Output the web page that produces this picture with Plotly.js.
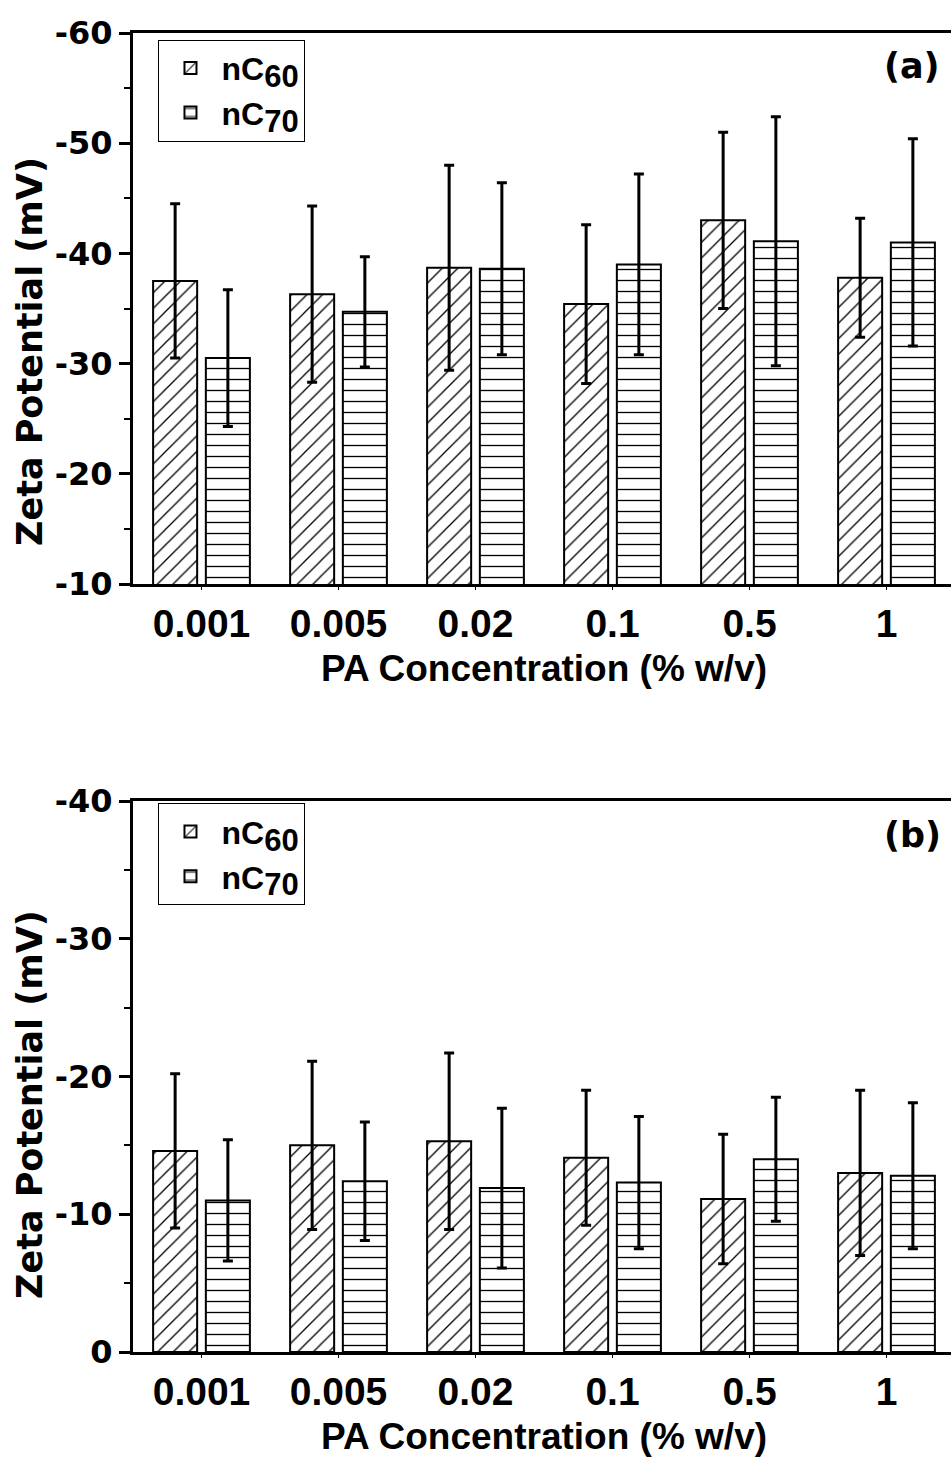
<!DOCTYPE html>
<html>
<head>
<meta charset="utf-8">
<script src="https://cdn.plot.ly/plotly-3.0.1.min.js"></script>
<style>
html,body{margin:0;padding:0;overflow:hidden;background:#fff;}
#chart{width:960px;height:1463px;}
</style>
</head>
<body>
<div id="chart"></div>
<script>
// ---- data ----
var categories = ['0.001', '0.005', '0.02', '0.1', '0.5', '1'];
var seriesNames = ['nC<sub><span style="font-size:31px">60</span></sub>',
                   'nC<sub><span style="font-size:31px">70</span></sub>'];
// panel (a)
var a_nC60 = [-37.5, -36.3, -38.7, -35.4, -43.0, -37.8];
var a_nC60_err = [7.0, 8.0, 9.3, 7.2, 8.0, 5.4];
var a_nC70 = [-30.5, -34.7, -38.6, -39.0, -41.1, -41.0];
var a_nC70_err = [6.2, 5.0, 7.8, 8.2, 11.3, 9.4];
// panel (b)
var b_nC60 = [-14.6, -15.0, -15.3, -14.1, -11.1, -13.0];
var b_nC60_err = [5.6, 6.1, 6.4, 4.9, 4.7, 6.0];
var b_nC70 = [-11.0, -12.4, -11.9, -12.3, -14.0, -12.8];
var b_nC70_err = [4.4, 4.3, 5.8, 4.8, 4.5, 5.3];
var yTicksA = [-60, -50, -40, -30, -20, -10];
var yTicksB = [-40, -30, -20, -10, 0];
var xTitle = 'PA Concentration (% w/v)';
var yTitle = 'Zeta Potential (mV)';
var panelLabels = ['(a)', '(b)'];

// ---- style ----
var ARIAL = 'Liberation Sans, Arial, sans-serif';
var DEJA = 'DejaVu Sans, sans-serif';
function bar(name, group, x, y, err, shape, xa, ya, legend) {
  return {
    type: 'bar', name: name, legendgroup: group, x: x, y: y, xaxis: xa, yaxis: ya, legend: legend,
    marker: {
      color: 'white',
      line: {color: 'black', width: 2},
      pattern: {shape: shape, size: 11, solidity: 0.12, fgcolor: 'black', bgcolor: 'white', fillmode: 'replace'}
    },
    error_y: {type: 'data', array: err, visible: true, color: 'black', thickness: 3, width: 5}
  };
}
var data = [
  bar(seriesNames[0], 'a60', categories, a_nC60, a_nC60_err, '/', 'x', 'y', 'legend'),
  bar(seriesNames[1], 'a70', categories, a_nC70, a_nC70_err, '-', 'x', 'y', 'legend'),
  bar(seriesNames[0], 'b60', categories, b_nC60, b_nC60_err, '/', 'x2', 'y2', 'legend2'),
  bar(seriesNames[1], 'b70', categories, b_nC70, b_nC70_err, '-', 'x2', 'y2', 'legend2')
];

function xaxis(anchor) {
  return {
    anchor: anchor, type: 'category', range: [-0.5, 5.5],
    showline: true, linecolor: 'black', linewidth: 3, mirror: true,
    ticks: 'outside', ticklen: 3, tickwidth: 1, tickcolor: 'black',
    tickfont: {family: ARIAL, size: 39, color: 'black', weight: 'bold'},
    showgrid: false, zeroline: false,
    title: {text: xTitle, standoff: 12,
            font: {family: ARIAL, size: 37, color: 'black', weight: 'bold'}}
  };
}
function yaxis(anchor, domain, range, ticks) {
  return {
    anchor: anchor, domain: domain, range: range,
    tickmode: 'array', tickvals: ticks, ticktext: ticks.map(String),
    showline: true, linecolor: 'black', linewidth: 3,
    ticks: 'outside', ticklen: 11, tickwidth: 3, tickcolor: 'black',
    minor: {ticks: 'outside', ticklen: 6, tickwidth: 2, tickcolor: 'black', dtick: 5, showgrid: false},
    tickfont: {family: DEJA, size: 32, color: 'black', weight: 'bold'},
    showgrid: false, zeroline: false
  };
}
function rightAxis(over, anchor, range) {
  return {
    overlaying: over, side: 'right', anchor: anchor, range: range,
    showline: true, linecolor: 'black', linewidth: 3,
    ticks: 'inside', ticklen: 10, tickwidth: 3, tickcolor: 'black', dtick: 10,
    minor: {ticks: 'inside', ticklen: 5, tickwidth: 2, tickcolor: 'black', dtick: 5},
    showticklabels: false, showgrid: false, zeroline: false
  };
}
var domA = [0.58226, 1];
var domB = [0, 0.41774];
function legendStyle(y) {
  return {
    x: 0.031, y: y, xanchor: 'left', yanchor: 'top',
    bgcolor: 'white', bordercolor: 'black', borderwidth: 1,
    font: {family: ARIAL, size: 32, color: 'black', weight: 'bold'},
    traceorder: 'normal', itemwidth: 52, tracegroupgap: 10
  };
}
function ytitleAnn(y) {
  return {text: yTitle, xref: 'paper', yref: 'paper', x: -0.1253, y: y,
          xanchor: 'center', yanchor: 'middle', textangle: -90, showarrow: false,
          font: {family: DEJA, size: 35, color: 'black', weight: 'bold'}};
}
function panelAnn(text, y) {
  return {text: text, xref: 'paper', yref: 'paper', x: 0.948, y: y,
          xanchor: 'center', yanchor: 'middle', showarrow: false,
          font: {family: DEJA, size: 35, color: 'black', weight: 'bold'}};
}
var layout = {
  width: 960, height: 1463,
  margin: {l: 133, r: 5, t: 33, b: 111},
  paper_bgcolor: 'white', plot_bgcolor: 'white',
  barmode: 'group', bargap: 0.23, bargroupgap: 0.165,
  showlegend: true,
  xaxis: xaxis('y'),
  yaxis: yaxis('x', domA, [-10, -60], yTicksA),
  xaxis2: xaxis('y2'),
  yaxis2: yaxis('x2', domB, [0, -40], yTicksB),
  yaxis3: rightAxis('y', 'x', [-10, -60]),
  yaxis4: rightAxis('y2', 'x2', [0, -40]),
  legend: legendStyle(0.995),
  legend2: legendStyle(0.416),
  annotations: [
    panelAnn(panelLabels[0], 0.975),
    panelAnn(panelLabels[1], 0.392),
    ytitleAnn(0.7582),
    ytitleAnn(0.1873)
  ]
};
Plotly.newPlot('chart', data, layout, {displayModeBar: false, staticPlot: true});
</script>
</body>
</html>
